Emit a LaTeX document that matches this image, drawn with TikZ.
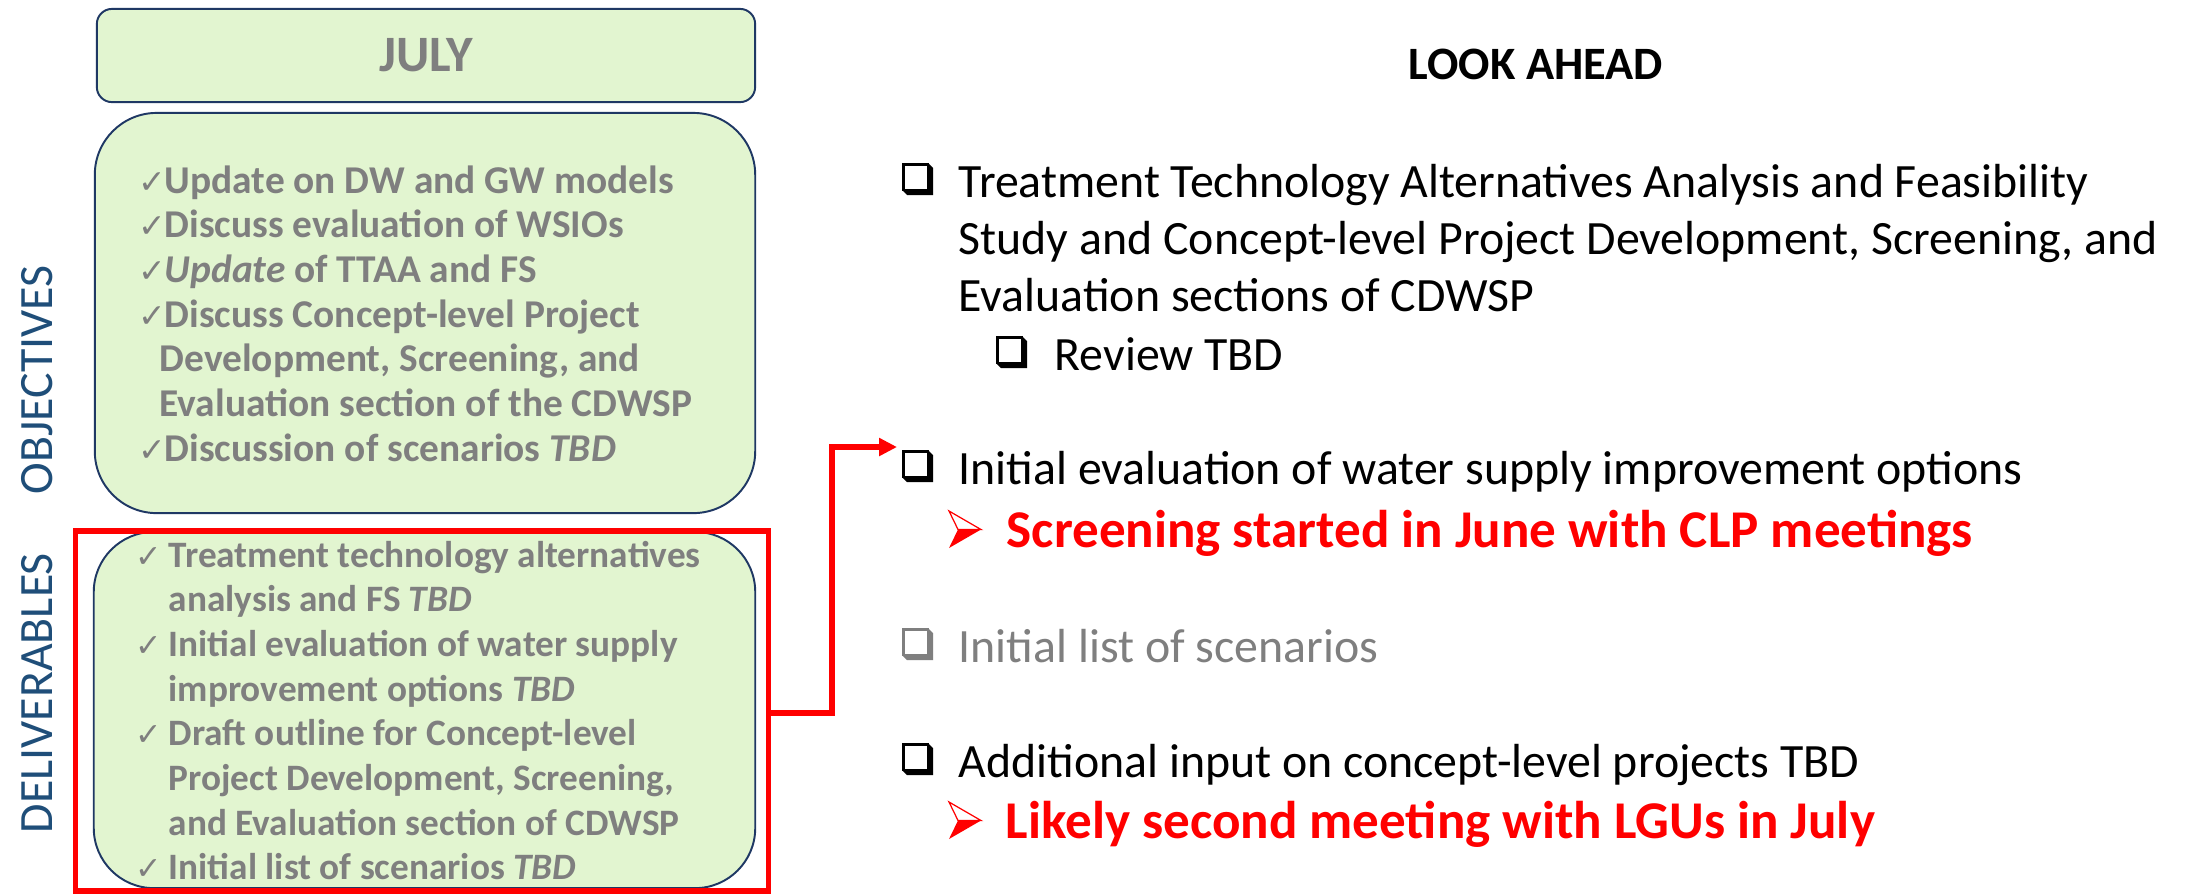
\documentclass[tikz,border=0pt]{standalone}
\usepackage{fontspec}
\setmainfont{Carlito}
\newfontfamily\djv{DejaVu Sans}
\usetikzlibrary{arrows.meta}
\definecolor{boxgreen}{RGB}{226,245,208}
\definecolor{boxline}{RGB}{31,56,100}
\definecolor{navy}{RGB}{31,78,121}
\definecolor{txtgray}{RGB}{127,127,127}
\definecolor{pptred}{RGB}{255,0,0}
\newcommand{\chkA}{\makebox[7.4pt][l]{\djv\fontsize{9.4pt}{10pt}\selectfont\mdseries ✓}}
\newcommand{\chkB}{\makebox[9.4pt][l]{\djv\fontsize{9pt}{10pt}\selectfont\mdseries ✓}}
\tikzset{
  objtxt/.style={anchor=base west, inner sep=0pt, text=txtgray, font=\fontsize{11.2pt}{12pt}\selectfont\bfseries},
  deltxt/.style={anchor=base west, inner sep=0pt, text=txtgray, font=\fontsize{10.6pt}{12pt}\selectfont\bfseries},
  righttxt/.style={anchor=base west, inner sep=0pt, font=\fontsize{13.6pt}{16pt}\selectfont},
  redtxt/.style={anchor=base west, inner sep=0pt, text=pptred, font=\fontsize{15.1pt}{17pt}\selectfont\bfseries},
  greenbox/.style={draw=boxline, fill=boxgreen, line width=0.55pt, inner sep=0pt},
  sidelabel/.style={rotate=90, anchor=base, inner sep=0pt, text=navy, font=\fontsize{13.6pt}{16pt}\selectfont},
  cbox/.pic={
    \fill[#1] (26,0) -- (31,5) -- (31,32) -- (5,32) -- (0,27) -- (26,27) -- cycle;
    \draw[#1, line width=0.75pt] (1.2,1.2) rectangle (26,27);
  },
  abul/.pic={
    \fill[pptred] (9,18.5) -- (32,18.5) -- (0,37) -- cycle;
    \draw[pptred, line width=0.35pt, line join=miter] (0,0) -- (32,18.5) -- (9,18.5) -- cycle;
  }
}
\begin{document}
\begin{tikzpicture}[x=0.01cm,y=-0.01cm]
\useasboundingbox (0,0) rectangle (2185,893);
\fill[white] (0,0) rectangle (2185,893);

% left boxes
\node[greenbox, rounded corners=4.3pt, minimum width=187.2pt, minimum height=26.5pt] (jul) at (426,55.5) {};
\node[text=txtgray, font=\fontsize{14.5pt}{16pt}\selectfont\bfseries] (jultxt) at (jul.center) {JULY};
\node[greenbox, rounded corners=17.6pt, minimum width=187.8pt, minimum height=113.8pt] (obj) at (425,313) {};
\node[greenbox, rounded corners=17.1pt, minimum width=188.1pt, minimum height=101.3pt] (del) at (424.5,710) {};
\node[draw=pptred, line width=1.56pt, minimum width=197pt, minimum height=102.4pt, inner sep=0pt] (frame) at (421.85,711) {};

% side labels
\node[sidelabel] (objlab) at (52,380) {OBJECTIVES};
\node[sidelabel] (dellab) at (52,693) {DELIVERABLES};

% objectives text
\node[objtxt] (o1) at (138,193) {\chkA Update on DW and GW models};
\node[objtxt] (o2) at (138,237.7) {\chkA Discuss evaluation of WSIOs};
\node[objtxt] (o3) at (138,282.4) {\chkA \textit{Update} of TTAA and FS};
\node[objtxt] (o4) at (138,327.1) {\chkA Discuss Concept-level Project};
\node[objtxt] (o5) at (159,371.8) {Development, Screening, and};
\node[objtxt] (o6) at (159,416.5) {Evaluation section of the CDWSP};
\node[objtxt] (o7) at (138,461.2) {\chkA Discussion of scenarios \textit{TBD}};

% deliverables text
\node[deltxt] (d1) at (135,567) {\chkB Treatment technology alternatives};
\node[deltxt] (d2) at (168,611.7) {analysis and FS \textit{TBD}};
\node[deltxt] (d3) at (135,656.4) {\chkB Initial evaluation of water supply};
\node[deltxt] (d4) at (168,701.1) {improvement options \textit{TBD}};
\node[deltxt] (d5) at (135,745.8) {\chkB Draft outline for Concept-level};
\node[deltxt] (d6) at (168,790.5) {Project Development, Screening,};
\node[deltxt] (d7) at (168,835.2) {and Evaluation section of CDWSP};
\node[deltxt] (d8) at (135,879.9) {\chkB Initial list of scenarios \textit{TBD}};

% right column
\node[anchor=base west, inner sep=0pt, font=\fontsize{13.2pt}{15pt}\selectfont\bfseries] (look) at (1408,79) {LOOK AHEAD};

\pic at (902,163) {cbox=black};
\node[righttxt] (r1) at (958,197) {Treatment Technology Alternatives Analysis and Feasibility};
\node[righttxt] (r2) at (958,254) {Study and Concept-level Project Development, Screening, and};
\node[righttxt] (r3) at (958,311) {Evaluation sections of CDWSP};
\pic at (996,336) {cbox=black};
\node[righttxt] (r4) at (1054,370) {Review TBD};

\pic at (902,450) {cbox=black};
\node[righttxt] (r5) at (958,484) {Initial evaluation of water supply improvement options};
\pic at (949,511) {abul};
\node[redtxt] (r6) at (1006,547) {Screening started in June with CLP meetings};

\pic at (902,628) {cbox=txtgray};
\node[righttxt, text=txtgray] (r7) at (958,662) {Initial list of scenarios};

\pic at (902,743) {cbox=black};
\node[righttxt] (r8) at (958,777) {Additional input on concept-level projects TBD};
\pic at (949,802) {abul};
\node[redtxt] (r9) at (1005,838) {Likely second meeting with LGUs in July};

% connector
\coordinate (ly) at (0,713);
\coordinate (bend) at (832,713);
\coordinate (tgt) at (897,447);
\draw[pptred, line width=1.45pt, -{Triangle[length=5.1pt,width=4.9pt]}] (frame.east |- ly) -- (bend) -- (bend |- tgt) -- (tgt);
\end{tikzpicture}
\end{document}
